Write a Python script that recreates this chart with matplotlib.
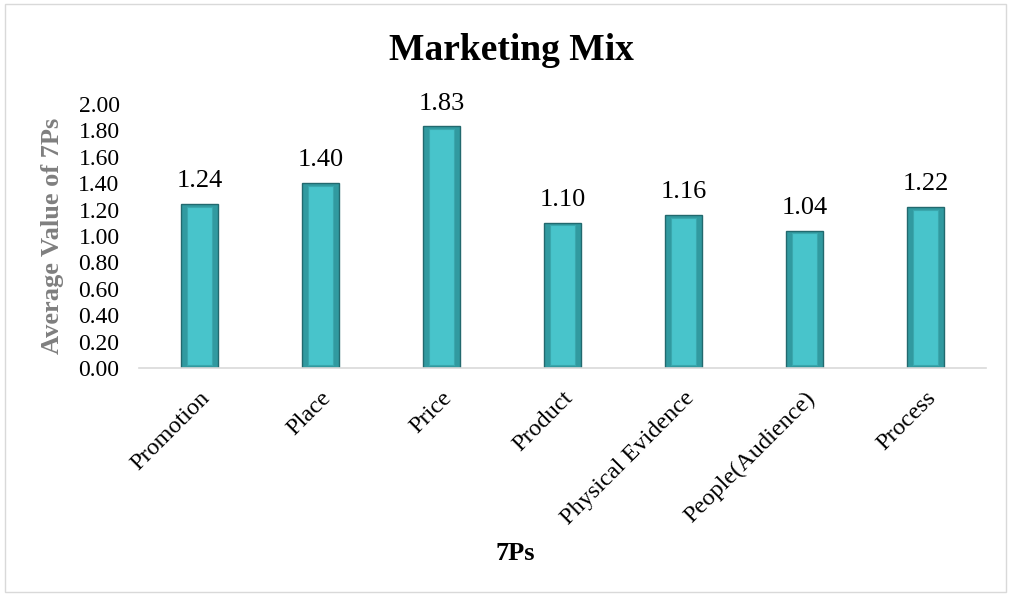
import matplotlib
matplotlib.use("Agg")
import matplotlib.pyplot as plt
from matplotlib.patches import Rectangle

categories = ["Promotion", "Place", "Price", "Product", "Physical Evidence", "People(Audience)", "Process"]
values = [1.24, 1.40, 1.83, 1.10, 1.16, 1.04, 1.22]
yticks = [0.0, 0.2, 0.4, 0.6, 0.8, 1.0, 1.2, 1.4, 1.6, 1.8, 2.0]

plt.rcParams['font.family'] = ['Liberation Serif', 'DejaVu Serif']

W, H = 1013, 594
fig = plt.figure(figsize=(W / 100, H / 100), dpi=100)
ax = fig.add_axes([139 / W, 1 - 368 / H, 847 / W, (368 - 104) / H])

x = list(range(len(categories)))
ax.bar(x, values, width=0.31, color="#319aa0", edgecolor="#22696e", linewidth=1.0, zorder=2)
ax.bar(x, [v - 0.04 for v in values], bottom=0.02, width=0.21, color="#48c4cb",
       edgecolor="#3aa7ad", linewidth=0.8, zorder=3)

for xi, v in zip(x, values):
    ax.text(xi, v + 0.09, f"{v:.2f}", ha="center", va="bottom", fontsize=19, color="black")

ax.set_xlim(-0.5, len(categories) - 0.5)
ax.set_ylim(0, 2.0)
ax.set_yticks(yticks)
ax.set_yticklabels([f"{t:.2f}" for t in yticks], fontsize=17)
ax.set_xticks(x)
ax.set_xticklabels(categories, rotation=45, ha="right", rotation_mode="anchor", fontsize=17.5)
ax.tick_params(axis="y", length=0, pad=14)
ax.tick_params(axis="x", length=0, pad=14)
for s in ["top", "right", "left"]:
    ax.spines[s].set_visible(False)
ax.spines["bottom"].set_color("#d9d9d9")
ax.spines["bottom"].set_linewidth(1.2)

ax.set_ylabel("Average Value of 7Ps", fontsize=19, fontweight="bold", color="#7f7f7f", labelpad=10)
fig.text(515 / W, 1 - 553 / H, "7Ps", ha="center", va="center", fontsize=19, fontweight="bold")
fig.text(511 / W, 1 - 51 / H, "Marketing Mix", ha="center", va="center", fontsize=27, fontweight="bold")

fig.patches.append(Rectangle((5 / W, 2 / H), (1006 - 5) / W, (590 - 2) / H, transform=fig.transFigure,
                             fill=False, edgecolor="#d9d9d9", linewidth=1.0))

fig.savefig("out.png", dpi=100)
